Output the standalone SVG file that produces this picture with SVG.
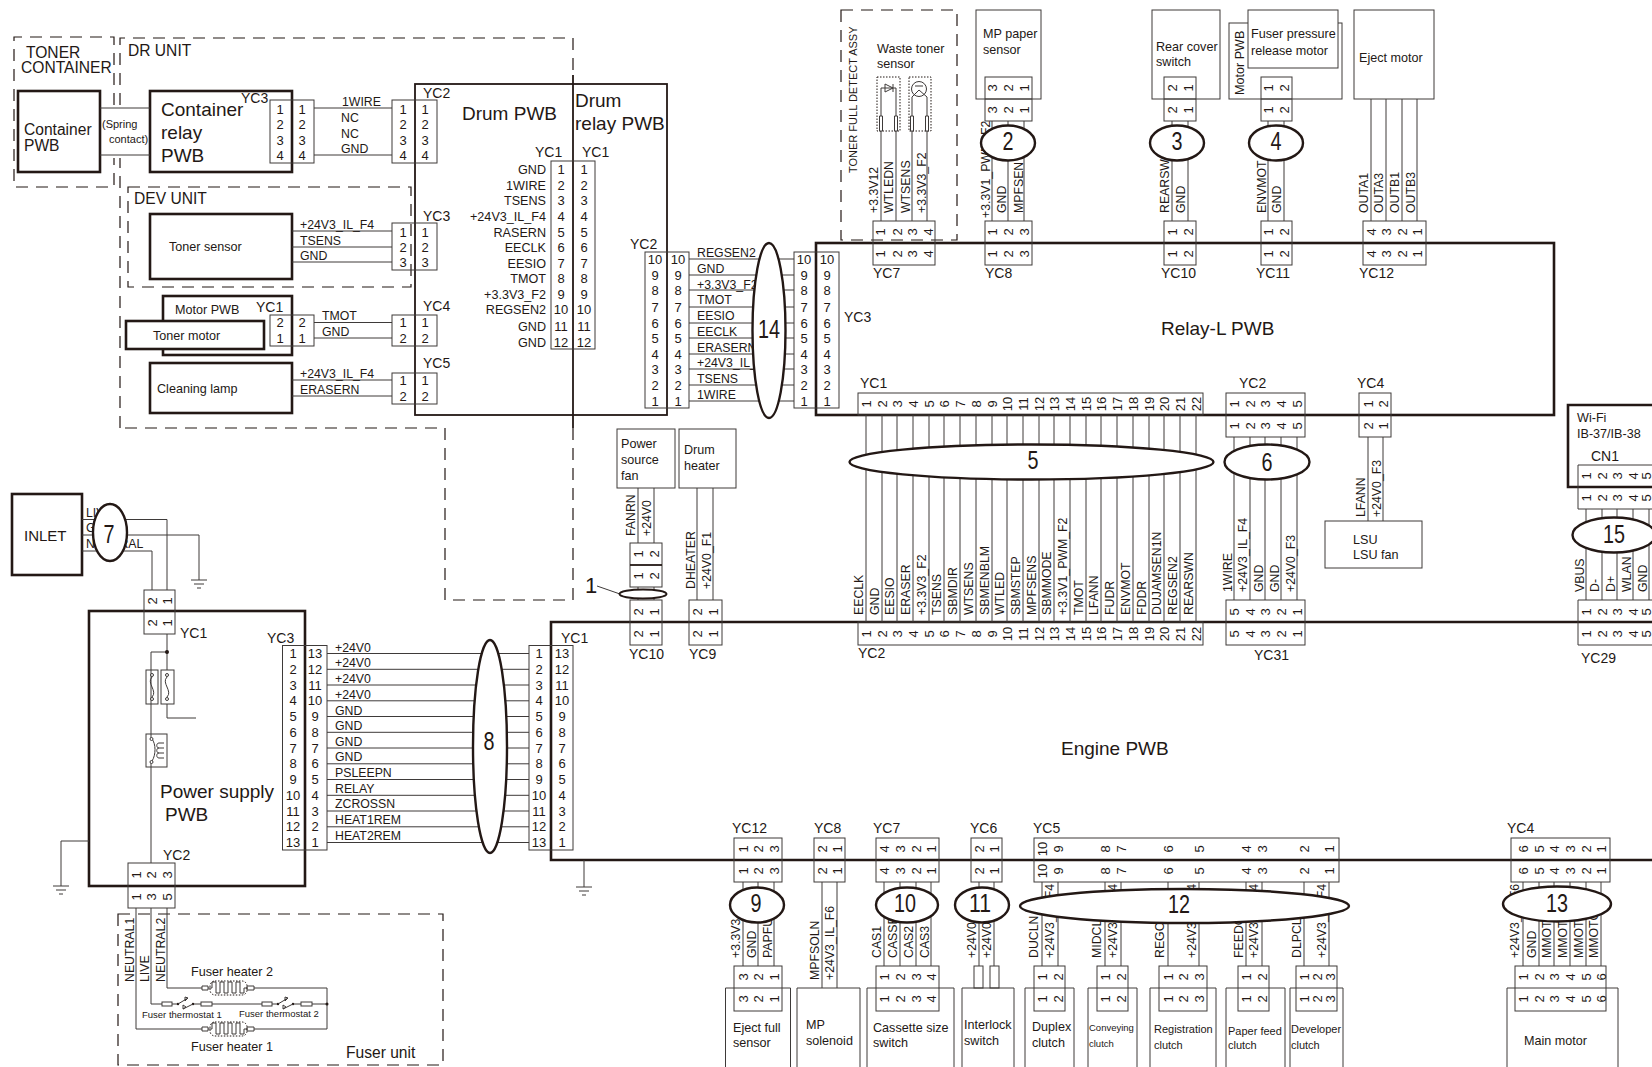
<svg xmlns="http://www.w3.org/2000/svg" xmlns:xlink="http://www.w3.org/1999/xlink" width="1652" height="1067" viewBox="0 0 1652 1067">
<style>
text{font-family:"Liberation Sans",Arial,sans-serif;fill:#231815;font-size:12.6px}
#wire-labels text{font-size:12.3px}
.n{font-size:13px;text-anchor:middle;dominant-baseline:central}
.l{font-size:14px}
.t{font-size:19px}
.u{font-size:15.6px}
.x{font-size:11px}
.b{font-size:25px;text-anchor:middle}
.c{fill:none;stroke:#3e3a39;stroke-width:1}
.s{fill:#fff;stroke:#3e3a39;stroke-width:1}
.k{fill:#fff;stroke:#231815;stroke-width:2.6}
.o{fill:none;stroke:#231815;stroke-width:2.6}
.m{fill:none;stroke:#231815;stroke-width:1.8}
.e{fill:#fff;stroke:#231815;stroke-width:2.4}
.d{fill:none;stroke:#231815;stroke-width:1.2;stroke-dasharray:12 8}
.p{fill:none;stroke:#231815;stroke-width:1;stroke-dasharray:1.5 1.5}
.g{fill:#231815;stroke:none}
</style>
<defs>
<g id="gnd"><path class="c" d="M-8 0H8M-5 4H5M-2 8H2"/></g>
<g id="heater"><path class="s" d="M0-2H6V2H0ZM45-2H52V2H45Z"/><path class="c" fill="none" d="M6 0H10V-6H14V5H18V-6H22V5H26V-6H30V5H34V-6H38V5H42V0H45"/><rect class="p" x="8" y="-7" width="37" height="14" rx="5"/></g>
<g id="thermo"><rect class="s" x="0" y="-2" width="10" height="4"/><circle class="g" cx="16" r="1.2"/><circle class="g" cx="31" r="1.2"/><path class="c" d="M16 0L26-6M31 0L21 5M26-6L23-7V-3ZM21 5L21 1L24 3Z"/><rect class="s" x="39" y="-2" width="11" height="4"/></g>
</defs>

<g id="frames">
<path class="d" d="M114 105V37H14V187H114V158"/>
<path class="d" d="M120 428V158M120 105V38H573V75M573 428V600H445V428H120"/>
<rect class="d" x="128" y="187" width="283" height="100"/>
<rect class="d" x="841" y="10" width="116" height="230"/>
<rect class="d" x="118" y="914" width="325" height="151"/>
<path class="m" d="M573 75V428"/>
<text class="u" x="26" y="58">TONER</text><text class="u" x="21" y="73">CONTAINER</text>
<text class="u" x="128" y="56">DR UNIT</text>
<text class="u" x="134" y="204">DEV UNIT</text>
<text class="u" x="346" y="1058">Fuser unit</text>
<text class="x" transform="translate(857 173)rotate(-90)">TONER FULL DETECT ASSY</text>
</g>

<g id="node-container-pwb"><rect class="k" x="18" y="91" width="82" height="81"/><text class="u" x="24" y="135">Container</text><text class="u" x="24" y="151">PWB</text></g>
<g id="node-container-relay"><rect class="k" x="150" y="91" width="142" height="81"/><text class="t" x="161" y="116">Container</text><text class="t" x="161" y="139">relay</text><text class="t" x="161" y="162">PWB</text></g>
<g id="node-toner-sensor"><rect class="k" x="150" y="214" width="142" height="65"/><text x="169" y="251">Toner sensor</text></g>
<g id="node-motor-pwb"><rect class="k" x="163" y="296" width="129" height="59"/><text x="175" y="314">Motor PWB</text></g>
<g id="node-toner-motor"><rect class="k" x="126" y="321" width="138" height="28"/><text x="153" y="340">Toner motor</text></g>
<g id="node-cleaning-lamp"><rect class="k" x="150" y="363" width="142" height="50"/><text x="157" y="393">Cleaning lamp</text></g>
<g id="node-drum-pwb"><rect class="m" x="415" y="84" width="252" height="331"/><text class="t" x="462" y="120">Drum PWB</text><text class="t" x="575" y="107">Drum</text><text class="t" x="575" y="130">relay PWB</text></g>
<g id="node-relay-l"><rect class="o" x="816" y="243" width="738" height="172"/><text class="t" x="1161" y="335">Relay-L PWB</text></g>
<g id="node-engine"><path class="o" d="M1652 622H551V860H1652"/><text class="t" x="1061" y="755">Engine PWB</text></g>
<g id="node-inlet"><rect class="k" x="12" y="494" width="70" height="81"/><text style="font-size:15px" x="24" y="541">INLET</text></g>
<g id="node-power-supply"><rect class="k" x="89" y="611" width="216" height="275"/><text class="t" x="160" y="798">Power supply</text><text class="t" x="165" y="821">PWB</text></g>
<g id="node-wifi"><path class="o" d="M1652 405H1568V487H1652"/><text x="1577" y="422">Wi-Fi</text><text x="1577" y="438">IB-37/IB-38</text></g>
<g id="node-mp-paper"><rect class="s" x="976" y="10" width="65" height="89"/><text x="983" y="38">MP paper</text><text x="983" y="54">sensor</text></g>
<g id="node-rear-cover"><rect class="s" x="1152" y="10" width="68" height="89"/><text x="1156" y="51">Rear cover</text><text x="1156" y="66">switch</text></g>
<g id="node-fuser-motor"><rect class="s" x="1229" y="23" width="113" height="76"/><text transform="translate(1244 95)rotate(-90)">Motor PWB</text><rect class="s" x="1248" y="10" width="90" height="58"/><text x="1251" y="38">Fuser pressure</text><text x="1251" y="55">release motor</text></g>
<g id="node-eject-motor"><rect class="s" x="1354" y="10" width="80" height="89"/><text x="1359" y="62">Eject motor</text></g>
<g id="node-lsu"><rect class="s" x="1325" y="521" width="97" height="47"/><text x="1353" y="544">LSU</text><text x="1353" y="559">LSU fan</text></g>
<g id="node-power-fan"><rect class="s" x="617" y="429" width="58" height="59"/><text x="621" y="448">Power</text><text x="621" y="464">source</text><text x="621" y="480">fan</text></g>
<g id="node-drum-heater"><rect class="s" x="679" y="429" width="57" height="59"/><text x="684" y="454">Drum</text><text x="684" y="470">heater</text></g>
<g id="node-eject-full"><path class="s" d="M725.500 1067V988H790.500V1067"/><text x="733" y="1032">Eject full</text><text x="733" y="1047">sensor</text></g>
<g id="node-mp-solenoid"><path class="s" d="M797 1067V988H860V1067"/><text x="806" y="1029">MP</text><text x="806" y="1045">solenoid</text></g>
<g id="node-cassette"><path class="s" d="M867 1067V988H954V1067"/><text x="873" y="1032">Cassette size</text><text x="873" y="1047">switch</text></g>
<g id="node-interlock"><path class="s" d="M962 1067V988H1014V1067"/><text x="964" y="1029">Interlock</text><text x="964" y="1045">switch</text></g>
<g id="node-duplex"><path class="s" d="M1025 1067V988H1074V1067"/><text x="1032" y="1031">Duplex</text><text x="1032" y="1047">clutch</text></g>
<g id="node-conveying"><path class="s" d="M1088 1067V988H1137V1067"/><text style="font-size:9.500px" x="1089" y="1031">Conveying</text><text style="font-size:9.500px" x="1089" y="1047">clutch</text></g>
<g id="node-registration"><path class="s" d="M1150 1067V988H1216V1067"/><text class="x" x="1154" y="1033">Registration</text><text class="x" x="1154" y="1049">clutch</text></g>
<g id="node-paper-feed"><path class="s" d="M1226 1067V988H1285V1067"/><text class="x" x="1228" y="1035">Paper feed</text><text class="x" x="1228" y="1049">clutch</text></g>
<g id="node-developer"><path class="s" d="M1290 1067V988H1343V1067"/><text class="x" x="1291" y="1033">Developer</text><text class="x" x="1291" y="1049">clutch</text></g>
<g id="node-main-motor"><path class="s" d="M1507 1067V988H1618V1067"/><text x="1524" y="1045">Main motor</text></g>

<g id="connectors">
<path class="c" d="M100 108H150M100 155H150M314 108H392M314 155H392M292 231H392M292 247H392M292 262H392M314 322.500H392M314 338H392M292 380H392M292 396H392
M689 259H794M689 275H794M689 290H794M689 307H794M689 323H794M689 338H794M689 354H794M689 369H794M689 385H794M689 401H794
M327 653.500H529M327 669.300H529M327 685H529M327 700.800H529M327 716.500H529M327 732.300H529M327 748H529M327 763.800H529M327 779.500H529M327 795.300H529M327 811H529M327 826.800H529M327 842.500H529
M881 88V221M896 88V221M881 88H896M912 97V221M927 97V221
M992 121V221M1008 121V221M1024 121V221M1172 121V221M1188 121V221M1268 121V221M1284 121V221M1371 99V221M1386 99V221M1402 99V221M1417 99V221
M866 415V622M882 415V622M897 415V622M913 415V622M929 415V622M944 415V622M960 415V622M976 415V622M992 415V622M1007 415V622M1023 415V622M1039 415V622M1054 415V622M1070 415V622M1086 415V622M1101 415V622M1117 415V622M1133 415V622M1149 415V622M1164 415V622M1180 415V622M1196 415V622
M1234 437V600M1250 437V600M1265 437V600M1281 437V600M1297 437V600M1368 437V521M1383 437V521
M1586 509V600M1602 509V600M1617 509V600M1633 509V600M1649 509V600
M638 488V543M654 488V543M638 587V600M654 587V600M697 488V600M713 488V600
M743 882V966M758 882V966M774 882V966M822 882V988M837 882V988M884 882V966M900 882V966M916 882V966M931 882V966M979 882V966M994 882V966
M1042 882V966M1058 882V966M1105 882V966M1121 882V966M1168 882V966M1199 882V966M1246 882V966M1262 882V966M1304 882V966M1329 882V966
M1523 882V966M1539 882V966M1554 882V966M1570 882V966M1586 882V966M1601 882V966
M82 519.500H167V590M82 535H199V580M82 551H152V590M167 634V670M167 652H151V863M167 704V718H196M89 841H61V886M584 860V887
M136 908V1029H202M254 1029H327V988H254M202 988H167V908M151 908V1004H162M172 1004H178M193 1004H201M212 1004H262M272 1004H279M294 1004H302M312 1004H327"/>
<circle class="g" cx="167" cy="652" r="2"/><circle class="g" cx="327" cy="1004" r="1.500"/>
<use xlink:href="#gnd" href="#gnd" x="199" y="580"/><use xlink:href="#gnd" href="#gnd" x="61" y="886"/><use xlink:href="#gnd" href="#gnd" x="584" y="887"/>
<path class="c" d="M597 586L620 594"/>
</g>

<g id="node-sensor-parts">
<rect class="p" x="877" y="77" width="23" height="54"/><rect class="p" x="909" y="77" width="22" height="54"/>
<path class="c" fill="#fff" d="M885 84V92L893 88ZM893 84V92"/>
<circle class="c" cx="919" cy="89" r="7.500"/><path class="c" d="M912 97L919 90L927 97M915 86H923"/>
<path class="s" d="M879.500 116H882.500V131H879.500ZM894.500 116H897.500V131H894.500ZM910.500 116H913.500V131H910.500ZM925.500 116H928.500V131H925.500Z"/>
<text x="877" y="53">Waste toner</text><text x="877" y="68">sensor</text>
</g>
<g id="node-fuses">
<rect class="c" x="146" y="670" width="12" height="34"/><rect class="c" x="161" y="670" width="13" height="34"/>
<circle class="s" cx="152" cy="675" r="1.500"/><circle class="s" cx="152" cy="699" r="1.500"/><circle class="s" cx="167" cy="675" r="1.500"/><circle class="s" cx="167" cy="699" r="1.500"/>
<path class="c" d="M152 677C146 683 158 691 152 697M167 677C161 683 173 691 167 697"/>
<rect class="s" x="146" y="734" width="21" height="33"/><path class="c" d="M151 734V738M151 762V767M152 739C156 744 156 755 152 761M164 743H159C156 743 156 748 159 748H164M159 748C156 748 156 753 159 753H164M159 753C156 753 156 758 159 758H164"/>
<circle class="s" cx="151.500" cy="739" r="1.500"/><circle class="s" cx="151.500" cy="762" r="1.500"/>
</g>
<g id="node-fuser-parts">
<use xlink:href="#heater" href="#heater" x="202" y="988"/><use xlink:href="#heater" href="#heater" x="202" y="1029"/>
<use xlink:href="#thermo" href="#thermo" x="162" y="1004"/><use xlink:href="#thermo" href="#thermo" x="262" y="1004"/>
<text x="191" y="976">Fuser heater 2</text><text x="191" y="1051">Fuser heater 1</text>
<text style="font-size:9.500px" x="142" y="1018">Fuser thermostat 1</text><text style="font-size:9.500px" x="239" y="1017">Fuser thermostat 2</text>
</g>

<g id="conn-container-yc3"><rect class="c" x="270" y="100" width="44" height="63"/>
<text class="n" x="280" y="109">1</text><text class="n" x="280" y="124">2</text><text class="n" x="280" y="140">3</text><text class="n" x="280" y="155">4</text>
<text class="n" x="302" y="109">1</text><text class="n" x="302" y="124">2</text><text class="n" x="302" y="140">3</text><text class="n" x="302" y="155">4</text>
<text class="l" x="241" y="103">YC3</text></g>
<g id="conn-drum-yc2"><rect class="c" x="392" y="100" width="45" height="63"/>
<text class="n" x="403" y="109">1</text><text class="n" x="403" y="124">2</text><text class="n" x="403" y="140">3</text><text class="n" x="403" y="155">4</text>
<text class="n" x="425" y="109">1</text><text class="n" x="425" y="124">2</text><text class="n" x="425" y="140">3</text><text class="n" x="425" y="155">4</text>
<text class="l" x="423" y="98">YC2</text></g>
<g id="conn-drum-yc3"><rect class="c" x="392" y="223" width="45" height="47"/>
<text class="n" x="403" y="232">1</text><text class="n" x="403" y="247">2</text><text class="n" x="403" y="262">3</text>
<text class="n" x="425" y="232">1</text><text class="n" x="425" y="247">2</text><text class="n" x="425" y="262">3</text>
<text class="l" x="423" y="221">YC3</text></g>
<g id="conn-motor-yc1"><rect class="c" x="270" y="315" width="44" height="31"/>
<text class="n" x="280" y="322">2</text><text class="n" x="280" y="338">1</text><text class="n" x="302" y="322">2</text><text class="n" x="302" y="338">1</text>
<text class="l" x="256" y="312">YC1</text></g>
<g id="conn-drum-yc4"><rect class="c" x="392" y="315" width="45" height="31"/>
<text class="n" x="403" y="322">1</text><text class="n" x="403" y="338">2</text><text class="n" x="425" y="322">1</text><text class="n" x="425" y="338">2</text>
<text class="l" x="423" y="311">YC4</text></g>
<g id="conn-drum-yc5"><rect class="c" x="392" y="373" width="45" height="31"/>
<text class="n" x="403" y="380">1</text><text class="n" x="403" y="396">2</text><text class="n" x="425" y="380">1</text><text class="n" x="425" y="396">2</text>
<text class="l" x="423" y="368">YC5</text></g>
<g id="conn-drum-yc1"><rect class="c" x="551" y="161" width="44" height="188"/>
<text class="n" x="561" y="169">1</text><text class="n" x="561" y="185">2</text><text class="n" x="561" y="200">3</text><text class="n" x="561" y="216">4</text><text class="n" x="561" y="232">5</text><text class="n" x="561" y="247">6</text><text class="n" x="561" y="263">7</text><text class="n" x="561" y="278">8</text><text class="n" x="561" y="294">9</text><text class="n" x="561" y="309">10</text><text class="n" x="561" y="326">11</text><text class="n" x="561" y="342">12</text>
<text class="n" x="584" y="169">1</text><text class="n" x="584" y="185">2</text><text class="n" x="584" y="200">3</text><text class="n" x="584" y="216">4</text><text class="n" x="584" y="232">5</text><text class="n" x="584" y="247">6</text><text class="n" x="584" y="263">7</text><text class="n" x="584" y="278">8</text><text class="n" x="584" y="294">9</text><text class="n" x="584" y="309">10</text><text class="n" x="584" y="326">11</text><text class="n" x="584" y="342">12</text>
<text class="l" x="535" y="157">YC1</text><text class="l" x="582" y="157">YC1</text>
<g text-anchor="end"><text x="546" y="174">GND</text><text x="546" y="190">1WIRE</text><text x="546" y="205">TSENS</text><text x="546" y="221">+24V3_IL_F4</text><text x="546" y="237">RASERN</text><text x="546" y="252">EECLK</text><text x="546" y="268">EESIO</text><text x="546" y="283">TMOT</text><text x="546" y="299">+3.3V3_F2</text><text x="546" y="314">REGSEN2</text><text x="546" y="331">GND</text><text x="546" y="347">GND</text></g></g>
<g id="conn-drum-relay-yc2"><rect class="c" x="645" y="252" width="44" height="156"/>
<text class="n" x="655" y="259">10</text><text class="n" x="655" y="275">9</text><text class="n" x="655" y="290">8</text><text class="n" x="655" y="307">7</text><text class="n" x="655" y="323">6</text><text class="n" x="655" y="338">5</text><text class="n" x="655" y="354">4</text><text class="n" x="655" y="369">3</text><text class="n" x="655" y="385">2</text><text class="n" x="655" y="401">1</text>
<text class="n" x="678" y="259">10</text><text class="n" x="678" y="275">9</text><text class="n" x="678" y="290">8</text><text class="n" x="678" y="307">7</text><text class="n" x="678" y="323">6</text><text class="n" x="678" y="338">5</text><text class="n" x="678" y="354">4</text><text class="n" x="678" y="369">3</text><text class="n" x="678" y="385">2</text><text class="n" x="678" y="401">1</text>
<text class="l" x="630" y="249">YC2</text></g>
<g id="conn-relay-yc3"><rect class="c" x="794" y="252" width="45" height="156"/>
<text class="n" x="804" y="259">10</text><text class="n" x="804" y="275">9</text><text class="n" x="804" y="290">8</text><text class="n" x="804" y="307">7</text><text class="n" x="804" y="323">6</text><text class="n" x="804" y="338">5</text><text class="n" x="804" y="354">4</text><text class="n" x="804" y="369">3</text><text class="n" x="804" y="385">2</text><text class="n" x="804" y="401">1</text>
<text class="n" x="827" y="259">10</text><text class="n" x="827" y="275">9</text><text class="n" x="827" y="290">8</text><text class="n" x="827" y="307">7</text><text class="n" x="827" y="323">6</text><text class="n" x="827" y="338">5</text><text class="n" x="827" y="354">4</text><text class="n" x="827" y="369">3</text><text class="n" x="827" y="385">2</text><text class="n" x="827" y="401">1</text>
<text class="l" x="844" y="322">YC3</text></g>

<g id="conn-relay-yc7"><rect class="c" x="873" y="221" width="62" height="44"/>
<text class="n" transform="translate(880 232)rotate(-90)">1</text><text class="n" transform="translate(897 232)rotate(-90)">2</text><text class="n" transform="translate(912 232)rotate(-90)">3</text><text class="n" transform="translate(928 232)rotate(-90)">4</text>
<text class="n" transform="translate(880 254)rotate(-90)">1</text><text class="n" transform="translate(897 254)rotate(-90)">2</text><text class="n" transform="translate(912 254)rotate(-90)">3</text><text class="n" transform="translate(928 254)rotate(-90)">4</text>
<text class="l" x="873" y="278">YC7</text></g>
<g id="conn-relay-yc8"><rect class="c" x="985" y="77" width="47" height="44"/><path class="c" d="M985 99H1032"/><rect class="c" x="985" y="221" width="47" height="44"/>
<text class="n" transform="translate(992 88)rotate(-90)">3</text><text class="n" transform="translate(1008 88)rotate(-90)">2</text><text class="n" transform="translate(1024 88)rotate(-90)">1</text>
<text class="n" transform="translate(992 110)rotate(-90)">3</text><text class="n" transform="translate(1008 110)rotate(-90)">2</text><text class="n" transform="translate(1024 110)rotate(-90)">1</text>
<text class="n" transform="translate(992 232)rotate(-90)">1</text><text class="n" transform="translate(1008 232)rotate(-90)">2</text><text class="n" transform="translate(1024 232)rotate(-90)">3</text>
<text class="n" transform="translate(992 254)rotate(-90)">1</text><text class="n" transform="translate(1008 254)rotate(-90)">2</text><text class="n" transform="translate(1024 254)rotate(-90)">3</text>
<text class="l" x="985" y="278">YC8</text></g>
<g id="conn-relay-yc10"><rect class="c" x="1164" y="77" width="32" height="44"/><path class="c" d="M1164 99H1196"/><rect class="c" x="1164" y="221" width="32" height="44"/>
<text class="n" transform="translate(1172 88)rotate(-90)">2</text><text class="n" transform="translate(1188 88)rotate(-90)">1</text>
<text class="n" transform="translate(1172 110)rotate(-90)">2</text><text class="n" transform="translate(1188 110)rotate(-90)">1</text>
<text class="n" transform="translate(1172 232)rotate(-90)">1</text><text class="n" transform="translate(1188 232)rotate(-90)">2</text>
<text class="n" transform="translate(1172 254)rotate(-90)">1</text><text class="n" transform="translate(1188 254)rotate(-90)">2</text>
<text class="l" x="1161" y="278">YC10</text></g>
<g id="conn-relay-yc11"><rect class="c" x="1261" y="77" width="31" height="44"/><path class="c" d="M1261 99H1292"/><rect class="c" x="1261" y="221" width="31" height="44"/>
<text class="n" transform="translate(1268 88)rotate(-90)">1</text><text class="n" transform="translate(1284 88)rotate(-90)">2</text>
<text class="n" transform="translate(1268 110)rotate(-90)">1</text><text class="n" transform="translate(1284 110)rotate(-90)">2</text>
<text class="n" transform="translate(1268 232)rotate(-90)">1</text><text class="n" transform="translate(1284 232)rotate(-90)">2</text>
<text class="n" transform="translate(1268 254)rotate(-90)">1</text><text class="n" transform="translate(1284 254)rotate(-90)">2</text>
<text class="l" x="1256" y="278">YC11</text></g>
<g id="conn-relay-yc12"><rect class="c" x="1363" y="221" width="63" height="44"/>
<text class="n" transform="translate(1371 232)rotate(-90)">4</text><text class="n" transform="translate(1386 232)rotate(-90)">3</text><text class="n" transform="translate(1402 232)rotate(-90)">2</text><text class="n" transform="translate(1417 232)rotate(-90)">1</text>
<text class="n" transform="translate(1371 254)rotate(-90)">4</text><text class="n" transform="translate(1386 254)rotate(-90)">3</text><text class="n" transform="translate(1402 254)rotate(-90)">2</text><text class="n" transform="translate(1417 254)rotate(-90)">1</text>
<text class="l" x="1359" y="278">YC12</text></g>

<g id="conn-relay-yc1"><rect class="c" x="858" y="393" width="345" height="22"/>
<text class="n" transform="translate(866 404)rotate(-90)">1</text><text class="n" transform="translate(882 404)rotate(-90)">2</text><text class="n" transform="translate(897 404)rotate(-90)">3</text><text class="n" transform="translate(913 404)rotate(-90)">4</text><text class="n" transform="translate(929 404)rotate(-90)">5</text><text class="n" transform="translate(944 404)rotate(-90)">6</text><text class="n" transform="translate(960 404)rotate(-90)">7</text><text class="n" transform="translate(976 404)rotate(-90)">8</text><text class="n" transform="translate(992 404)rotate(-90)">9</text><text class="n" transform="translate(1007 404)rotate(-90)">10</text><text class="n" transform="translate(1023 404)rotate(-90)">11</text><text class="n" transform="translate(1039 404)rotate(-90)">12</text><text class="n" transform="translate(1054 404)rotate(-90)">13</text><text class="n" transform="translate(1070 404)rotate(-90)">14</text><text class="n" transform="translate(1086 404)rotate(-90)">15</text><text class="n" transform="translate(1101 404)rotate(-90)">16</text><text class="n" transform="translate(1117 404)rotate(-90)">17</text><text class="n" transform="translate(1133 404)rotate(-90)">18</text><text class="n" transform="translate(1149 404)rotate(-90)">19</text><text class="n" transform="translate(1164 404)rotate(-90)">20</text><text class="n" transform="translate(1180 404)rotate(-90)">21</text><text class="n" transform="translate(1196 404)rotate(-90)">22</text>
<text class="l" x="860" y="388">YC1</text></g>
<g id="conn-engine-yc2"><rect class="c" x="858" y="622" width="345" height="23"/>
<text class="n" transform="translate(866 634)rotate(-90)">1</text><text class="n" transform="translate(882 634)rotate(-90)">2</text><text class="n" transform="translate(897 634)rotate(-90)">3</text><text class="n" transform="translate(913 634)rotate(-90)">4</text><text class="n" transform="translate(929 634)rotate(-90)">5</text><text class="n" transform="translate(944 634)rotate(-90)">6</text><text class="n" transform="translate(960 634)rotate(-90)">7</text><text class="n" transform="translate(976 634)rotate(-90)">8</text><text class="n" transform="translate(992 634)rotate(-90)">9</text><text class="n" transform="translate(1007 634)rotate(-90)">10</text><text class="n" transform="translate(1023 634)rotate(-90)">11</text><text class="n" transform="translate(1039 634)rotate(-90)">12</text><text class="n" transform="translate(1054 634)rotate(-90)">13</text><text class="n" transform="translate(1070 634)rotate(-90)">14</text><text class="n" transform="translate(1086 634)rotate(-90)">15</text><text class="n" transform="translate(1101 634)rotate(-90)">16</text><text class="n" transform="translate(1117 634)rotate(-90)">17</text><text class="n" transform="translate(1133 634)rotate(-90)">18</text><text class="n" transform="translate(1149 634)rotate(-90)">19</text><text class="n" transform="translate(1164 634)rotate(-90)">20</text><text class="n" transform="translate(1180 634)rotate(-90)">21</text><text class="n" transform="translate(1196 634)rotate(-90)">22</text>
<text class="l" x="858" y="658">YC2</text></g>
<g id="conn-relay-yc2"><rect class="c" x="1226" y="393" width="79" height="44"/>
<text class="n" transform="translate(1234 404)rotate(-90)">1</text><text class="n" transform="translate(1250 404)rotate(-90)">2</text><text class="n" transform="translate(1265 404)rotate(-90)">3</text><text class="n" transform="translate(1281 404)rotate(-90)">4</text><text class="n" transform="translate(1297 404)rotate(-90)">5</text>
<text class="n" transform="translate(1234 426)rotate(-90)">1</text><text class="n" transform="translate(1250 426)rotate(-90)">2</text><text class="n" transform="translate(1265 426)rotate(-90)">3</text><text class="n" transform="translate(1281 426)rotate(-90)">4</text><text class="n" transform="translate(1297 426)rotate(-90)">5</text>
<text class="l" x="1239" y="388">YC2</text></g>
<g id="conn-engine-yc31"><rect class="c" x="1226" y="600" width="79" height="45"/>
<text class="n" transform="translate(1234 612)rotate(-90)">5</text><text class="n" transform="translate(1250 612)rotate(-90)">4</text><text class="n" transform="translate(1265 612)rotate(-90)">3</text><text class="n" transform="translate(1281 612)rotate(-90)">2</text><text class="n" transform="translate(1297 612)rotate(-90)">1</text>
<text class="n" transform="translate(1234 634)rotate(-90)">5</text><text class="n" transform="translate(1250 634)rotate(-90)">4</text><text class="n" transform="translate(1265 634)rotate(-90)">3</text><text class="n" transform="translate(1281 634)rotate(-90)">2</text><text class="n" transform="translate(1297 634)rotate(-90)">1</text>
<text class="l" x="1254" y="660">YC31</text></g>
<g id="conn-relay-yc4"><rect class="c" x="1359" y="393" width="32" height="44"/>
<text class="n" transform="translate(1368 404)rotate(-90)">1</text><text class="n" transform="translate(1383 404)rotate(-90)">2</text>
<text class="n" transform="translate(1368 426)rotate(-90)">2</text><text class="n" transform="translate(1383 426)rotate(-90)">1</text>
<text class="l" x="1357" y="388">YC4</text></g>
<g id="conn-wifi-cn1"><path class="c" d="M1652 465H1578V509H1652"/>
<text class="n" transform="translate(1586 476)rotate(-90)">1</text><text class="n" transform="translate(1602 476)rotate(-90)">2</text><text class="n" transform="translate(1617 476)rotate(-90)">3</text><text class="n" transform="translate(1633 476)rotate(-90)">4</text><text class="n" transform="translate(1646.500 476)rotate(-90)">5</text>
<text class="n" transform="translate(1586 498)rotate(-90)">1</text><text class="n" transform="translate(1602 498)rotate(-90)">2</text><text class="n" transform="translate(1617 498)rotate(-90)">3</text><text class="n" transform="translate(1633 498)rotate(-90)">4</text><text class="n" transform="translate(1646.500 498)rotate(-90)">5</text>
<text class="l" x="1591" y="461">CN1</text></g>
<g id="conn-engine-yc29"><path class="c" d="M1652 600H1578V645H1652"/>
<text class="n" transform="translate(1586 612)rotate(-90)">1</text><text class="n" transform="translate(1602 612)rotate(-90)">2</text><text class="n" transform="translate(1617 612)rotate(-90)">3</text><text class="n" transform="translate(1633 612)rotate(-90)">4</text><text class="n" transform="translate(1646.500 612)rotate(-90)">5</text>
<text class="n" transform="translate(1586 634)rotate(-90)">1</text><text class="n" transform="translate(1602 634)rotate(-90)">2</text><text class="n" transform="translate(1617 634)rotate(-90)">3</text><text class="n" transform="translate(1633 634)rotate(-90)">4</text><text class="n" transform="translate(1646.500 634)rotate(-90)">5</text>
<text class="l" x="1581" y="663">YC29</text></g>

<g id="conn-fan"><rect class="c" x="630" y="543" width="32" height="44"/><path class="m" d="M630 565H662"/>
<text class="n" transform="translate(638 554)rotate(-90)">1</text><text class="n" transform="translate(654 554)rotate(-90)">2</text>
<text class="n" transform="translate(638 576)rotate(-90)">1</text><text class="n" transform="translate(654 576)rotate(-90)">2</text></g>
<g id="conn-engine-yc10"><rect class="c" x="630" y="600" width="32" height="45"/>
<text class="n" transform="translate(638 612)rotate(-90)">2</text><text class="n" transform="translate(654 612)rotate(-90)">1</text>
<text class="n" transform="translate(638 634)rotate(-90)">2</text><text class="n" transform="translate(654 634)rotate(-90)">1</text>
<text class="l" x="629" y="659">YC10</text></g>
<g id="conn-engine-yc9"><rect class="c" x="689" y="600" width="33" height="45"/>
<text class="n" transform="translate(697 612)rotate(-90)">2</text><text class="n" transform="translate(713 612)rotate(-90)">1</text>
<text class="n" transform="translate(697 634)rotate(-90)">2</text><text class="n" transform="translate(713 634)rotate(-90)">1</text>
<text class="l" x="689" y="659">YC9</text></g>

<g id="conn-psu-yc1"><rect class="c" x="144" y="590" width="31" height="44"/>
<text class="n" transform="translate(152 601)rotate(-90)">2</text><text class="n" transform="translate(167 601)rotate(-90)">1</text>
<text class="n" transform="translate(152 623)rotate(-90)">2</text><text class="n" transform="translate(167 623)rotate(-90)">1</text>
<text class="l" x="180" y="638">YC1</text></g>
<g id="conn-psu-yc2"><rect class="c" x="128" y="863" width="47" height="45"/>
<text class="n" transform="translate(136 875)rotate(-90)">1</text><text class="n" transform="translate(151 875)rotate(-90)">2</text><text class="n" transform="translate(167 875)rotate(-90)">3</text>
<text class="n" transform="translate(136 897)rotate(-90)">1</text><text class="n" transform="translate(151 897)rotate(-90)">3</text><text class="n" transform="translate(167 897)rotate(-90)">5</text>
<text class="l" x="163" y="860">YC2</text></g>
<g id="conn-psu-yc3"><rect class="c" x="282.500" y="645.500" width="44.500" height="204.500"/>
<text class="n" x="293" y="653.500">1</text><text class="n" x="293" y="669.300">2</text><text class="n" x="293" y="685">3</text><text class="n" x="293" y="700.800">4</text><text class="n" x="293" y="716.500">5</text><text class="n" x="293" y="732.300">6</text><text class="n" x="293" y="748">7</text><text class="n" x="293" y="763.800">8</text><text class="n" x="293" y="779.500">9</text><text class="n" x="293" y="795.300">10</text><text class="n" x="293" y="811">11</text><text class="n" x="293" y="826.800">12</text><text class="n" x="293" y="842.500">13</text>
<text class="n" x="315" y="653.500">13</text><text class="n" x="315" y="669.300">12</text><text class="n" x="315" y="685">11</text><text class="n" x="315" y="700.800">10</text><text class="n" x="315" y="716.500">9</text><text class="n" x="315" y="732.300">8</text><text class="n" x="315" y="748">7</text><text class="n" x="315" y="763.800">6</text><text class="n" x="315" y="779.500">5</text><text class="n" x="315" y="795.300">4</text><text class="n" x="315" y="811">3</text><text class="n" x="315" y="826.800">2</text><text class="n" x="315" y="842.500">1</text>
<text class="l" x="267" y="643">YC3</text></g>
<g id="conn-engine-yc1"><rect class="c" x="529" y="645.500" width="44" height="204.500"/>
<text class="n" x="539" y="653.500">1</text><text class="n" x="539" y="669.300">2</text><text class="n" x="539" y="685">3</text><text class="n" x="539" y="700.800">4</text><text class="n" x="539" y="716.500">5</text><text class="n" x="539" y="732.300">6</text><text class="n" x="539" y="748">7</text><text class="n" x="539" y="763.800">8</text><text class="n" x="539" y="779.500">9</text><text class="n" x="539" y="795.300">10</text><text class="n" x="539" y="811">11</text><text class="n" x="539" y="826.800">12</text><text class="n" x="539" y="842.500">13</text>
<text class="n" x="562" y="653.500">13</text><text class="n" x="562" y="669.300">12</text><text class="n" x="562" y="685">11</text><text class="n" x="562" y="700.800">10</text><text class="n" x="562" y="716.500">9</text><text class="n" x="562" y="732.300">8</text><text class="n" x="562" y="748">7</text><text class="n" x="562" y="763.800">6</text><text class="n" x="562" y="779.500">5</text><text class="n" x="562" y="795.300">4</text><text class="n" x="562" y="811">3</text><text class="n" x="562" y="826.800">2</text><text class="n" x="562" y="842.500">1</text>
<text class="l" x="561" y="643">YC1</text></g>

<g id="conn-engine-yc12"><rect class="c" x="734" y="838" width="48" height="44"/><rect class="c" x="734" y="966" width="48" height="45"/>
<text class="n" transform="translate(743 849)rotate(-90)">1</text><text class="n" transform="translate(758 849)rotate(-90)">2</text><text class="n" transform="translate(774 849)rotate(-90)">3</text>
<text class="n" transform="translate(743 871)rotate(-90)">1</text><text class="n" transform="translate(758 871)rotate(-90)">2</text><text class="n" transform="translate(774 871)rotate(-90)">3</text>
<text class="n" transform="translate(743 977)rotate(-90)">3</text><text class="n" transform="translate(758 977)rotate(-90)">2</text><text class="n" transform="translate(774 977)rotate(-90)">1</text>
<text class="n" transform="translate(743 999)rotate(-90)">3</text><text class="n" transform="translate(758 999)rotate(-90)">2</text><text class="n" transform="translate(774 999)rotate(-90)">1</text>
<text class="l" x="732" y="833">YC12</text></g>
<g id="conn-engine-yc8"><rect class="c" x="814" y="838" width="31" height="44"/>
<text class="n" transform="translate(822 849)rotate(-90)">2</text><text class="n" transform="translate(837 849)rotate(-90)">1</text>
<text class="n" transform="translate(822 871)rotate(-90)">2</text><text class="n" transform="translate(837 871)rotate(-90)">1</text>
<text class="l" x="814" y="833">YC8</text></g>
<g id="conn-engine-yc7"><rect class="c" x="876" y="838" width="63" height="44"/><rect class="c" x="876" y="966" width="63" height="45"/>
<text class="n" transform="translate(884 849)rotate(-90)">4</text><text class="n" transform="translate(900 849)rotate(-90)">3</text><text class="n" transform="translate(916 849)rotate(-90)">2</text><text class="n" transform="translate(931 849)rotate(-90)">1</text>
<text class="n" transform="translate(884 871)rotate(-90)">4</text><text class="n" transform="translate(900 871)rotate(-90)">3</text><text class="n" transform="translate(916 871)rotate(-90)">2</text><text class="n" transform="translate(931 871)rotate(-90)">1</text>
<text class="n" transform="translate(884 977)rotate(-90)">1</text><text class="n" transform="translate(900 977)rotate(-90)">2</text><text class="n" transform="translate(916 977)rotate(-90)">3</text><text class="n" transform="translate(931 977)rotate(-90)">4</text>
<text class="n" transform="translate(884 999)rotate(-90)">1</text><text class="n" transform="translate(900 999)rotate(-90)">2</text><text class="n" transform="translate(916 999)rotate(-90)">3</text><text class="n" transform="translate(931 999)rotate(-90)">4</text>
<text class="l" x="873" y="833">YC7</text></g>
<g id="conn-engine-yc6"><rect class="c" x="971" y="838" width="31" height="44"/><rect class="c" x="974" y="966" width="9" height="22"/><rect class="c" x="990" y="966" width="9" height="22"/>
<text class="n" transform="translate(979 849)rotate(-90)">2</text><text class="n" transform="translate(994 849)rotate(-90)">1</text>
<text class="n" transform="translate(979 871)rotate(-90)">2</text><text class="n" transform="translate(994 871)rotate(-90)">1</text>
<text class="l" x="970" y="833">YC6</text></g>
<g id="conn-engine-yc5"><rect class="c" x="1034" y="838" width="305" height="44"/>
<text class="n" transform="translate(1042 849)rotate(-90)">10</text><text class="n" transform="translate(1058 849)rotate(-90)">9</text><text class="n" transform="translate(1105 849)rotate(-90)">8</text><text class="n" transform="translate(1121 849)rotate(-90)">7</text><text class="n" transform="translate(1168 849)rotate(-90)">6</text><text class="n" transform="translate(1199 849)rotate(-90)">5</text><text class="n" transform="translate(1246 849)rotate(-90)">4</text><text class="n" transform="translate(1262 849)rotate(-90)">3</text><text class="n" transform="translate(1304 849)rotate(-90)">2</text><text class="n" transform="translate(1329 849)rotate(-90)">1</text>
<text class="n" transform="translate(1042 871)rotate(-90)">10</text><text class="n" transform="translate(1058 871)rotate(-90)">9</text><text class="n" transform="translate(1105 871)rotate(-90)">8</text><text class="n" transform="translate(1121 871)rotate(-90)">7</text><text class="n" transform="translate(1168 871)rotate(-90)">6</text><text class="n" transform="translate(1199 871)rotate(-90)">5</text><text class="n" transform="translate(1246 871)rotate(-90)">4</text><text class="n" transform="translate(1262 871)rotate(-90)">3</text><text class="n" transform="translate(1304 871)rotate(-90)">2</text><text class="n" transform="translate(1329 871)rotate(-90)">1</text>
<text class="l" x="1033" y="833">YC5</text></g>
<g id="conn-duplex"><rect class="c" x="1034" y="966" width="31" height="45"/>
<text class="n" transform="translate(1042 977)rotate(-90)">1</text><text class="n" transform="translate(1058 977)rotate(-90)">2</text>
<text class="n" transform="translate(1042 999)rotate(-90)">1</text><text class="n" transform="translate(1058 999)rotate(-90)">2</text></g>
<g id="conn-conveying"><rect class="c" x="1097" y="966" width="31" height="45"/>
<text class="n" transform="translate(1105 977)rotate(-90)">1</text><text class="n" transform="translate(1121 977)rotate(-90)">2</text>
<text class="n" transform="translate(1105 999)rotate(-90)">1</text><text class="n" transform="translate(1121 999)rotate(-90)">2</text></g>
<g id="conn-registration"><rect class="c" x="1159" y="966" width="48" height="45"/>
<text class="n" transform="translate(1168 977)rotate(-90)">1</text><text class="n" transform="translate(1183 977)rotate(-90)">2</text><text class="n" transform="translate(1199 977)rotate(-90)">3</text>
<text class="n" transform="translate(1168 999)rotate(-90)">1</text><text class="n" transform="translate(1183 999)rotate(-90)">2</text><text class="n" transform="translate(1199 999)rotate(-90)">3</text></g>
<g id="conn-paper-feed"><rect class="c" x="1238" y="966" width="31" height="45"/>
<text class="n" transform="translate(1246 977)rotate(-90)">1</text><text class="n" transform="translate(1262 977)rotate(-90)">2</text>
<text class="n" transform="translate(1246 999)rotate(-90)">1</text><text class="n" transform="translate(1262 999)rotate(-90)">2</text></g>
<g id="conn-developer"><rect class="c" x="1296" y="966" width="41" height="45"/>
<text class="n" transform="translate(1304 977)rotate(-90)">1</text><text class="n" transform="translate(1317 977)rotate(-90)">2</text><text class="n" transform="translate(1330 977)rotate(-90)">3</text>
<text class="n" transform="translate(1304 999)rotate(-90)">1</text><text class="n" transform="translate(1317 999)rotate(-90)">2</text><text class="n" transform="translate(1330 999)rotate(-90)">3</text></g>
<g id="conn-engine-yc4"><rect class="c" x="1511" y="838" width="99" height="44"/><rect class="c" x="1515" y="966" width="91" height="45"/>
<text class="n" transform="translate(1523 849)rotate(-90)">6</text><text class="n" transform="translate(1539 849)rotate(-90)">5</text><text class="n" transform="translate(1554 849)rotate(-90)">4</text><text class="n" transform="translate(1570 849)rotate(-90)">3</text><text class="n" transform="translate(1586 849)rotate(-90)">2</text><text class="n" transform="translate(1601 849)rotate(-90)">1</text>
<text class="n" transform="translate(1523 871)rotate(-90)">6</text><text class="n" transform="translate(1539 871)rotate(-90)">5</text><text class="n" transform="translate(1554 871)rotate(-90)">4</text><text class="n" transform="translate(1570 871)rotate(-90)">3</text><text class="n" transform="translate(1586 871)rotate(-90)">2</text><text class="n" transform="translate(1601 871)rotate(-90)">1</text>
<text class="n" transform="translate(1523 977)rotate(-90)">1</text><text class="n" transform="translate(1539 977)rotate(-90)">2</text><text class="n" transform="translate(1554 977)rotate(-90)">3</text><text class="n" transform="translate(1570 977)rotate(-90)">4</text><text class="n" transform="translate(1586 977)rotate(-90)">5</text><text class="n" transform="translate(1601 977)rotate(-90)">6</text>
<text class="n" transform="translate(1523 999)rotate(-90)">1</text><text class="n" transform="translate(1539 999)rotate(-90)">2</text><text class="n" transform="translate(1554 999)rotate(-90)">3</text><text class="n" transform="translate(1570 999)rotate(-90)">4</text><text class="n" transform="translate(1586 999)rotate(-90)">5</text><text class="n" transform="translate(1601 999)rotate(-90)">6</text>
<text class="l" x="1507" y="833">YC4</text></g>

<g id="contact-note"><text x="102" y="128" class="x">(Spring</text><text x="109" y="143" class="x">contact)</text></g>
<g id="wire-labels">
<text x="342" y="106">1WIRE</text><text x="341" y="122">NC</text><text x="341" y="138">NC</text><text x="341" y="153">GND</text>
<text x="300" y="229">+24V3_IL_F4</text><text x="300" y="245">TSENS</text><text x="300" y="260">GND</text>
<text x="322" y="320">TMOT</text><text x="322" y="336">GND</text>
<text x="300" y="378">+24V3_IL_F4</text><text x="300" y="394">ERASERN</text>
<text x="697" y="257">REGSEN2</text><text x="697" y="273">GND</text><text x="697" y="289">+3.3V3_F2</text><text x="697" y="304">TMOT</text><text x="697" y="320">EESIO</text><text x="697" y="336">EECLK</text><text x="697" y="352">ERASERN</text><text x="697" y="367">+24V3_IL_F4</text><text x="697" y="383">TSENS</text><text x="697" y="399">1WIRE</text>
<text x="335" y="652">+24V0</text><text x="335" y="667">+24V0</text><text x="335" y="683">+24V0</text><text x="335" y="699">+24V0</text><text x="335" y="714.500">GND</text><text x="335" y="730">GND</text><text x="335" y="746">GND</text><text x="335" y="761">GND</text><text x="335" y="777">PSLEEPN</text><text x="335" y="793">RELAY</text><text x="335" y="808">ZCROSSN</text><text x="335" y="824">HEAT1REM</text><text x="335" y="840">HEAT2REM</text>
<text x="86" y="517">LIVE</text><text x="86" y="532">GND</text><text x="86" y="548">NEUTRAL</text>
<text transform="translate(878 213)rotate(-90)">+3.3V12</text><text transform="translate(893 213)rotate(-90)">WTLEDN</text><text transform="translate(910 213)rotate(-90)">WTSENS</text><text transform="translate(926 213)rotate(-90)">+3.3V3_F2</text>
<text transform="translate(990 218)rotate(-90)">+3.3V1_PWM_F2</text><text transform="translate(1006 213)rotate(-90)">GND</text><text transform="translate(1023 213)rotate(-90)">MPFSEN</text>
<text transform="translate(1169 213)rotate(-90)">REARSW</text><text transform="translate(1185 213)rotate(-90)">GND</text>
<text transform="translate(1266 213)rotate(-90)">ENVMOT</text><text transform="translate(1281 213)rotate(-90)">GND</text>
<text transform="translate(1368 213)rotate(-90)">OUTA1</text><text transform="translate(1383 213)rotate(-90)">OUTA3</text><text transform="translate(1399 213)rotate(-90)">OUTB1</text><text transform="translate(1415 213)rotate(-90)">OUTB3</text>
<text transform="translate(863 615)rotate(-90)">EECLK</text><text transform="translate(879 615)rotate(-90)">GND</text><text transform="translate(894 615)rotate(-90)">EESIO</text><text transform="translate(910 615)rotate(-90)">ERASER</text><text transform="translate(926 615)rotate(-90)">+3.3V3_F2</text><text transform="translate(941 615)rotate(-90)">TSENS</text><text transform="translate(957 615)rotate(-90)">SBMDIR</text><text transform="translate(973 615)rotate(-90)">WTSENS</text><text transform="translate(989 615)rotate(-90)">SBMENBLM</text><text transform="translate(1004 615)rotate(-90)">WTLED</text><text transform="translate(1020 615)rotate(-90)">SBMSTEP</text><text transform="translate(1036 615)rotate(-90)">MPFSENS</text><text transform="translate(1051 615)rotate(-90)">SBMMODE</text><text transform="translate(1067 615)rotate(-90)">+3.3V1_PWM_F2</text><text transform="translate(1083 615)rotate(-90)">TMOT</text><text transform="translate(1098 615)rotate(-90)">LFANN</text><text transform="translate(1114 615)rotate(-90)">FUDR</text><text transform="translate(1130 615)rotate(-90)">ENVMOT</text><text transform="translate(1146 615)rotate(-90)">FDDR</text><text transform="translate(1161 615)rotate(-90)">DUJAMSEN1N</text><text transform="translate(1177 615)rotate(-90)">REGSEN2</text><text transform="translate(1193 615)rotate(-90)">REARSWN</text>
<text transform="translate(1232 592)rotate(-90)">1WIRE</text><text transform="translate(1247 592)rotate(-90)">+24V3_IL_F4</text><text transform="translate(1263 592)rotate(-90)">GND</text><text transform="translate(1279 592)rotate(-90)">GND</text><text transform="translate(1295 592)rotate(-90)">+24V0_F3</text>
<text transform="translate(1365 517)rotate(-90)">LFANN</text><text transform="translate(1381 517)rotate(-90)">+24V0_F3</text>
<text transform="translate(1584 592)rotate(-90)">VBUS</text><text transform="translate(1599 592)rotate(-90)">D-</text><text transform="translate(1615 592)rotate(-90)">D+</text><text transform="translate(1631 592)rotate(-90)">WLAN</text><text transform="translate(1647 592)rotate(-90)">GND</text>
<text transform="translate(635 536)rotate(-90)">FANRN</text><text transform="translate(651 536)rotate(-90)">+24V0</text>
<text transform="translate(695 589)rotate(-90)">DHEATER</text><text transform="translate(711 589)rotate(-90)">+24V0_F1</text>
<text transform="translate(134 982)rotate(-90)">NEUTRAL1</text><text transform="translate(149 982)rotate(-90)">LIVE</text><text transform="translate(165 982)rotate(-90)">NEUTRAL2</text>
<text transform="translate(740 958)rotate(-90)">+3.3V3</text><text transform="translate(756 958)rotate(-90)">GND</text><text transform="translate(772 958)rotate(-90)">PAPFU</text>
<text transform="translate(819 980)rotate(-90)">MPFSOLN</text><text transform="translate(834 980)rotate(-90)">+24V3_IL_F6</text>
<text transform="translate(881 958)rotate(-90)">CAS1</text><text transform="translate(897 958)rotate(-90)">CASSE</text><text transform="translate(913 958)rotate(-90)">CAS2</text><text transform="translate(929 958)rotate(-90)">CAS3</text>
<text transform="translate(976 958)rotate(-90)">+24V0</text><text transform="translate(991 958)rotate(-90)">+24V0</text>
<text transform="translate(1038 958)rotate(-90)">DUCLN</text><text transform="translate(1054 958)rotate(-90)">+24V3_IL_F4</text>
<text transform="translate(1101 958)rotate(-90)">MIDCL</text><text transform="translate(1117 958)rotate(-90)">+24V3_IL_F4</text>
<text transform="translate(1164 958)rotate(-90)">REGC</text><text transform="translate(1196 958)rotate(-90)">+24V3_IL_F4</text>
<text transform="translate(1243 958)rotate(-90)">FEEDC</text><text transform="translate(1258 958)rotate(-90)">+24V3_IL_F4</text>
<text transform="translate(1301 958)rotate(-90)">DLPCL</text><text transform="translate(1326 958)rotate(-90)">+24V3_IL_F4</text>
<text transform="translate(1519 958)rotate(-90)">+24V3_IL_F6</text><text transform="translate(1536 958)rotate(-90)">GND</text><text transform="translate(1551 958)rotate(-90)">MMOT</text><text transform="translate(1567 958)rotate(-90)">MMOT</text><text transform="translate(1583 958)rotate(-90)">MMOT</text><text transform="translate(1598 958)rotate(-90)">MMOTC</text>
</g>

<g id="bundle-1"><ellipse class="e" style="stroke-width:2" cx="643" cy="594" rx="23.500" ry="4.500"/><text style="font-size:22px" x="585" y="593">1</text></g>
<g id="bundle-2"><ellipse class="e" cx="1008" cy="143" rx="27" ry="17.500"/><text class="b" textLength="11" lengthAdjust="spacingAndGlyphs" x="1008" y="150">2</text></g>
<g id="bundle-3"><ellipse class="e" cx="1177" cy="143" rx="27" ry="17.500"/><text class="b" textLength="11" lengthAdjust="spacingAndGlyphs" x="1177" y="150">3</text></g>
<g id="bundle-4"><ellipse class="e" cx="1276" cy="143" rx="27" ry="17.500"/><text class="b" textLength="11" lengthAdjust="spacingAndGlyphs" x="1276" y="150">4</text></g>
<g id="bundle-5"><ellipse class="e" cx="1031.500" cy="462" rx="182" ry="17.500"/><text class="b" textLength="11" lengthAdjust="spacingAndGlyphs" x="1033" y="469">5</text></g>
<g id="bundle-6"><ellipse class="e" cx="1267" cy="462" rx="42.500" ry="17.500"/><text class="b" textLength="11" lengthAdjust="spacingAndGlyphs" x="1267" y="471">6</text></g>
<g id="bundle-7"><ellipse class="e" cx="110" cy="532.500" rx="17" ry="28.500"/><text class="b" textLength="11" lengthAdjust="spacingAndGlyphs" x="109" y="543">7</text></g>
<g id="bundle-8"><ellipse class="e" cx="490" cy="746.500" rx="17" ry="106.500"/><text class="b" textLength="11" lengthAdjust="spacingAndGlyphs" x="489" y="750">8</text></g>
<g id="bundle-9"><ellipse class="e" cx="757" cy="905" rx="27" ry="17.500"/><text class="b" textLength="11" lengthAdjust="spacingAndGlyphs" x="756" y="912">9</text></g>
<g id="bundle-10"><ellipse class="e" cx="907" cy="905" rx="31" ry="17.500"/><text class="b" textLength="22" lengthAdjust="spacingAndGlyphs" x="905" y="912">10</text></g>
<g id="bundle-11"><ellipse class="e" cx="982" cy="905" rx="27" ry="17.500"/><text class="b" textLength="22" lengthAdjust="spacingAndGlyphs" x="980" y="912">11</text></g>
<g id="bundle-12"><ellipse class="e" cx="1184.500" cy="906" rx="164.500" ry="17"/><text class="b" textLength="22" lengthAdjust="spacingAndGlyphs" x="1179" y="913">12</text></g>
<g id="bundle-13"><ellipse class="e" cx="1557" cy="904" rx="54" ry="17.500"/><text class="b" textLength="22" lengthAdjust="spacingAndGlyphs" x="1557" y="912">13</text></g>
<g id="bundle-14"><ellipse class="e" cx="769" cy="330.500" rx="16.500" ry="87.500"/><text class="b" textLength="22" lengthAdjust="spacingAndGlyphs" x="769" y="338">14</text></g>
<g id="bundle-15"><ellipse class="e" cx="1614" cy="535" rx="41.500" ry="17.500"/><text class="b" textLength="22" lengthAdjust="spacingAndGlyphs" x="1614" y="543">15</text></g>
</svg>
